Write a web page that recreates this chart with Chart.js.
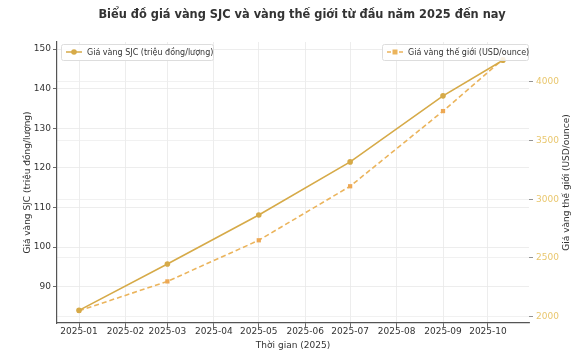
<!DOCTYPE html>
<html><head><meta charset="utf-8">
<script src="https://cdn.jsdelivr.net/npm/chart.js@4.4.1/dist/chart.umd.min.js"></script>
<style>html,body{margin:0;padding:0;background:#fff;}#wrap{width:580px;height:357px;}</style>
</head><body><div id="wrap"><canvas id="c" width="580" height="357"></canvas></div>
<script>
// ---- data ----
const monthDays = [0, 31, 59, 90, 120, 151, 181, 212, 243, 273];
const monthLabels = ['2025-01','2025-02','2025-03','2025-04','2025-05','2025-06','2025-07','2025-08','2025-09','2025-10'];
const pointDays = [0, 59, 120, 181, 243, 283];
const sjcValues = [84, 95.7, 108.1, 121.5, 138.2, 147.2];
const worldValues = [2050, 2300, 2650, 3110, 3750, 4190];
const leftTicks = [90, 100, 110, 120, 130, 140, 150];
const rightTicks = [2000, 2500, 3000, 3500, 4000];
const titleText = 'Biểu đồ giá vàng SJC và vàng thế giới từ đầu năm 2025 đến nay';
const sjcLabel = 'Giá vàng SJC (triệu đồng/lượng)';
const worldLabel = 'Giá vàng thế giới (USD/ounce)';
const xTitle = 'Thời gian (2025)';

const FONT = "'DejaVu Sans', sans-serif";
const sjcColor = '#D6AA48';
const worldColor = '#EBB45C';

const sjcData = pointDays.map((d, i) => ({x: d, y: sjcValues[i]}));
const worldData = pointDays.map((d, i) => ({x: d, y: worldValues[i]}));

const extras = {
  id: 'extras',
  afterDraw(chart) {
    const ctx = chart.ctx;
    const ca = chart.chartArea;
    ctx.save();
    // title
    ctx.fillStyle = '#333';
    ctx.font = "bold 11.4px " + FONT;
    ctx.textAlign = 'center';
    ctx.textBaseline = 'middle';
    ctx.fillText(titleText, 302, 15);
    // axis titles (both read bottom to top)
    function vtitle(x, text) {
      ctx.save();
      ctx.translate(x, (ca.top + ca.bottom) / 2);
      ctx.rotate(-Math.PI / 2);
      ctx.font = "9px " + FONT;
      ctx.fillStyle = '#333';
      ctx.textAlign = 'center';
      ctx.textBaseline = 'middle';
      ctx.fillText(text, 0, 0);
      ctx.restore();
    }
    vtitle(28, sjcLabel);
    vtitle(567, worldLabel);
    // legends
    function legend(x0, x1, y0, y1, color, dash, marker, label) {
      ctx.fillStyle = 'rgba(255,255,255,0.85)';
      ctx.strokeStyle = '#dddddd';
      ctx.lineWidth = 1;
      ctx.beginPath();
      ctx.roundRect(x0 + 0.5, y0 + 0.5, x1 - x0, y1 - y0, 2);
      ctx.fill(); ctx.stroke();
      const cy = (y0 + y1) / 2;
      ctx.strokeStyle = color; ctx.lineWidth = 1.5;
      ctx.setLineDash(dash);
      ctx.beginPath(); ctx.moveTo(x0 + 5, cy); ctx.lineTo(x0 + 21, cy); ctx.stroke();
      ctx.setLineDash([]);
      ctx.fillStyle = color;
      ctx.beginPath();
      if (marker === 'rect') ctx.rect(x0 + 13 - 2.5, cy - 2.5, 5, 5);
      else ctx.arc(x0 + 13, cy, 2.8, 0, Math.PI * 2);
      ctx.fill();
      ctx.fillStyle = '#333';
      ctx.font = "8px " + FONT;
      ctx.textAlign = 'left';
      ctx.textBaseline = 'middle';
      ctx.fillText(label, x0 + 26, cy + 0.5);
    }
    legend(61, 213, 44, 60, sjcColor, [], 'circle', sjcLabel);
    legend(382, 528, 44, 60, worldColor, [4, 2], 'rect', worldLabel);
    ctx.restore();
  }
};

new Chart(document.getElementById('c'), {
  type: 'line',
  data: {
    datasets: [
      {
        label: sjcLabel, data: sjcData, yAxisID: 'y', borderColor: sjcColor, backgroundColor: sjcColor,
        borderWidth: 1.6, pointRadius: 2.8, pointStyle: 'circle', pointBackgroundColor: sjcColor,
        pointBorderWidth: 0, tension: 0
      },
      {
        label: worldLabel, data: worldData, yAxisID: 'y1', borderColor: worldColor, backgroundColor: worldColor,
        borderWidth: 1.6, borderDash: [5, 3], pointRadius: 3, pointStyle: 'rect', pointBackgroundColor: '#EDA854',
        pointBorderWidth: 0, tension: 0
      }
    ]
  },
  options: {
    responsive: false, animation: false,
    layout: {padding: {top: 42, left: 0, right: 0, bottom: 0}},
    plugins: {legend: {display: false}, title: {display: false}, tooltip: {enabled: false}},
    scales: {
      x: {
        type: 'linear', min: -14.7, max: 300.4,
        afterBuildTicks: s => { s.ticks = monthDays.map(v => ({value: v})); },
        afterFit: s => { s.height = 34; },
        ticks: {
          callback: v => monthLabels[monthDays.indexOf(v)],
          font: {family: FONT, size: 9}, color: '#333', maxRotation: 0, autoSkip: false, padding: -1
        },
        grid: {color: '#e8e8e8', lineWidth: 0.8, tickColor: '#444', tickLength: 4},
        border: {display: true, color: '#555', width: 1.2},
        title: {display: true, text: xTitle, font: {family: FONT, size: 9}, color: '#333', padding: {top: 0, bottom: 6}}
      },
      y: {
        position: 'left', min: 80.8, max: 151.8,
        afterBuildTicks: s => { s.ticks = leftTicks.map(v => ({value: v})); },
        afterFit: s => { s.width = 57; },
        ticks: {font: {family: FONT, size: 9}, color: '#333', padding: 2},
        grid: {color: '#e8e8e8', lineWidth: 0.8, tickColor: '#444', tickLength: 4},
        border: {display: true, color: '#555', width: 1.2},
        title: {display: false}
      },
      y1: {
        position: 'right', min: 1946, max: 4338,
        afterBuildTicks: s => { s.ticks = rightTicks.map(v => ({value: v})); },
        afterFit: s => { s.width = 51; },
        ticks: {font: {family: FONT, size: 9}, color: '#E9C76E', padding: 3, callback: v => String(v)},
        grid: {color: '#eeeeee', lineWidth: 0.8, tickColor: '#777', tickLength: 4},
        border: {display: false},
        title: {display: false}
      }
    }
  },
  plugins: [extras]
});
</script>
</body></html>
